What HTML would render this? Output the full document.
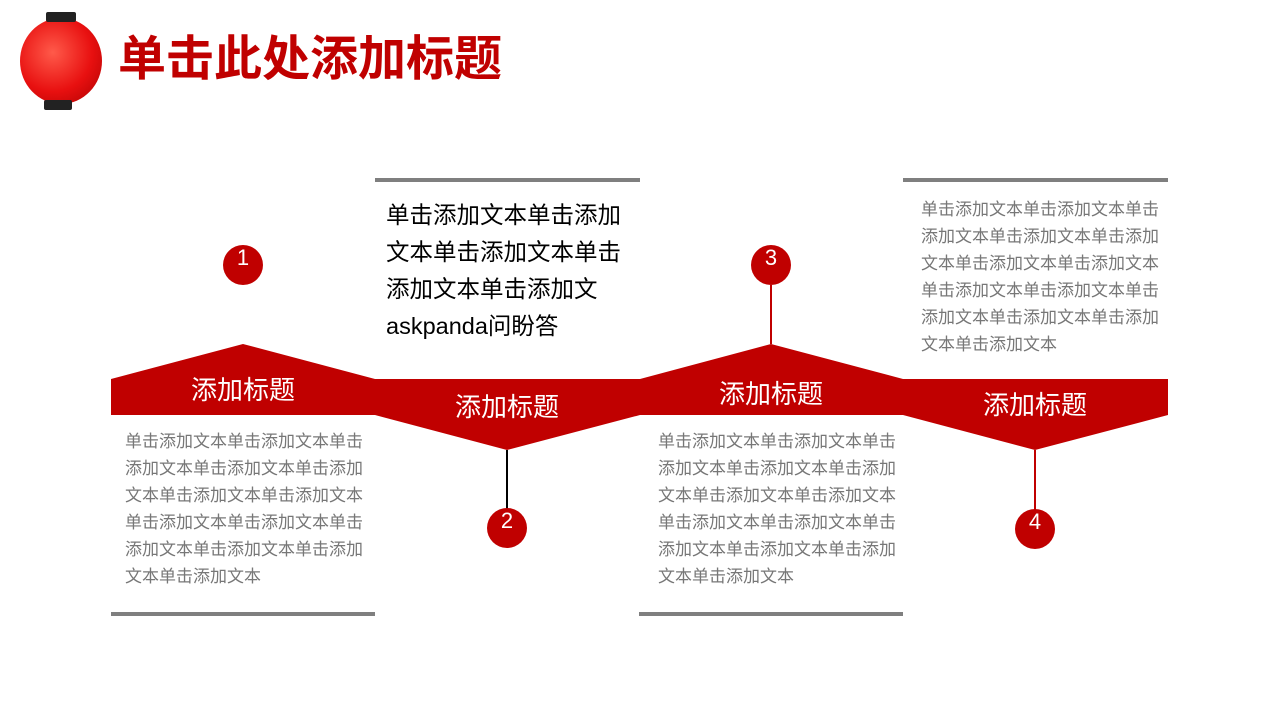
<!DOCTYPE html>
<html><head><meta charset="utf-8"><style>
body{margin:0;width:1280px;height:720px;background:#fff;position:relative;overflow:hidden;font-family:"Liberation Sans","Noto Sans CJK SC",sans-serif}
.a{position:absolute}
.t{position:absolute;color:#777;font-size:17px;line-height:27px;white-space:nowrap}
.h{position:absolute;color:#fff;font-size:26px;text-align:center;width:264px}
.c{position:absolute;width:40px;height:40px;border-radius:50%;background:#c00000;color:#fff;font-size:22px;text-align:center;line-height:26px}
.bar{position:absolute;height:4px;background:#7f7f7f}
</style></head><body>
<div class="a" style="left:20px;top:18px;width:82px;height:86px;border-radius:50%;background:radial-gradient(circle at 40% 40%,#ff5a4a,#e81010 55%,#a00 100%)"></div>
<div class="a" style="left:46px;top:12px;width:30px;height:10px;background:#222;border-radius:2px"></div>
<div class="a" style="left:44px;top:100px;width:28px;height:10px;background:#222;border-radius:2px"></div>
<div class="a" style="left:118px;top:30px;font-size:48px;font-weight:bold;color:#c00000;line-height:60px">单击此处添加标题</div>
<svg class="a" style="left:0;top:0" width="1280" height="720">
<polygon points="111,379 243,344 375,379 375,415 111,415" fill="#c00000"/>
<polygon points="375,379 640,379 640,415 507,450 375,415" fill="#c00000"/>
<polygon points="640,379 771,344 903,379 903,415 640,415" fill="#c00000"/>
<polygon points="903,379 1168,379 1168,415 1035,450 903,415" fill="#c00000"/>
<line x1="771" y1="285" x2="771" y2="344" stroke="#c00000" stroke-width="2"/>
<line x1="507" y1="450" x2="507" y2="510" stroke="#000" stroke-width="2"/>
<line x1="1035" y1="450" x2="1035" y2="510" stroke="#c00000" stroke-width="2"/>
</svg>
<div class="bar" style="left:375px;top:178px;width:265px"></div>
<div class="bar" style="left:903px;top:178px;width:265px"></div>
<div class="bar" style="left:111px;top:612px;width:264px"></div>
<div class="bar" style="left:639px;top:612px;width:264px"></div>
<div class="c" style="left:223px;top:245px">1</div>
<div class="c" style="left:487px;top:508px">2</div>
<div class="c" style="left:751px;top:245px">3</div>
<div class="c" style="left:1015px;top:509px">4</div>
<div class="h" style="left:111px;top:370px">添加标题</div>
<div class="h" style="left:375px;top:387px">添加标题</div>
<div class="h" style="left:639px;top:374px">添加标题</div>
<div class="h" style="left:903px;top:385px">添加标题</div>
<div class="a" style="left:386px;top:197px;font-size:23.5px;line-height:37px;white-space:nowrap;color:#000">单击添加文本单击添加<br>文本单击添加文本单击<br>添加文本单击添加文<br>askpanda问盼答</div>
<div class="t" style="left:125px;top:428px">单击添加文本单击添加文本单击<br>添加文本单击添加文本单击添加<br>文本单击添加文本单击添加文本<br>单击添加文本单击添加文本单击<br>添加文本单击添加文本单击添加<br>文本单击添加文本</div>
<div class="t" style="left:658px;top:428px">单击添加文本单击添加文本单击<br>添加文本单击添加文本单击添加<br>文本单击添加文本单击添加文本<br>单击添加文本单击添加文本单击<br>添加文本单击添加文本单击添加<br>文本单击添加文本</div>
<div class="t" style="left:921px;top:196px">单击添加文本单击添加文本单击<br>添加文本单击添加文本单击添加<br>文本单击添加文本单击添加文本<br>单击添加文本单击添加文本单击<br>添加文本单击添加文本单击添加<br>文本单击添加文本</div>
</body></html>
